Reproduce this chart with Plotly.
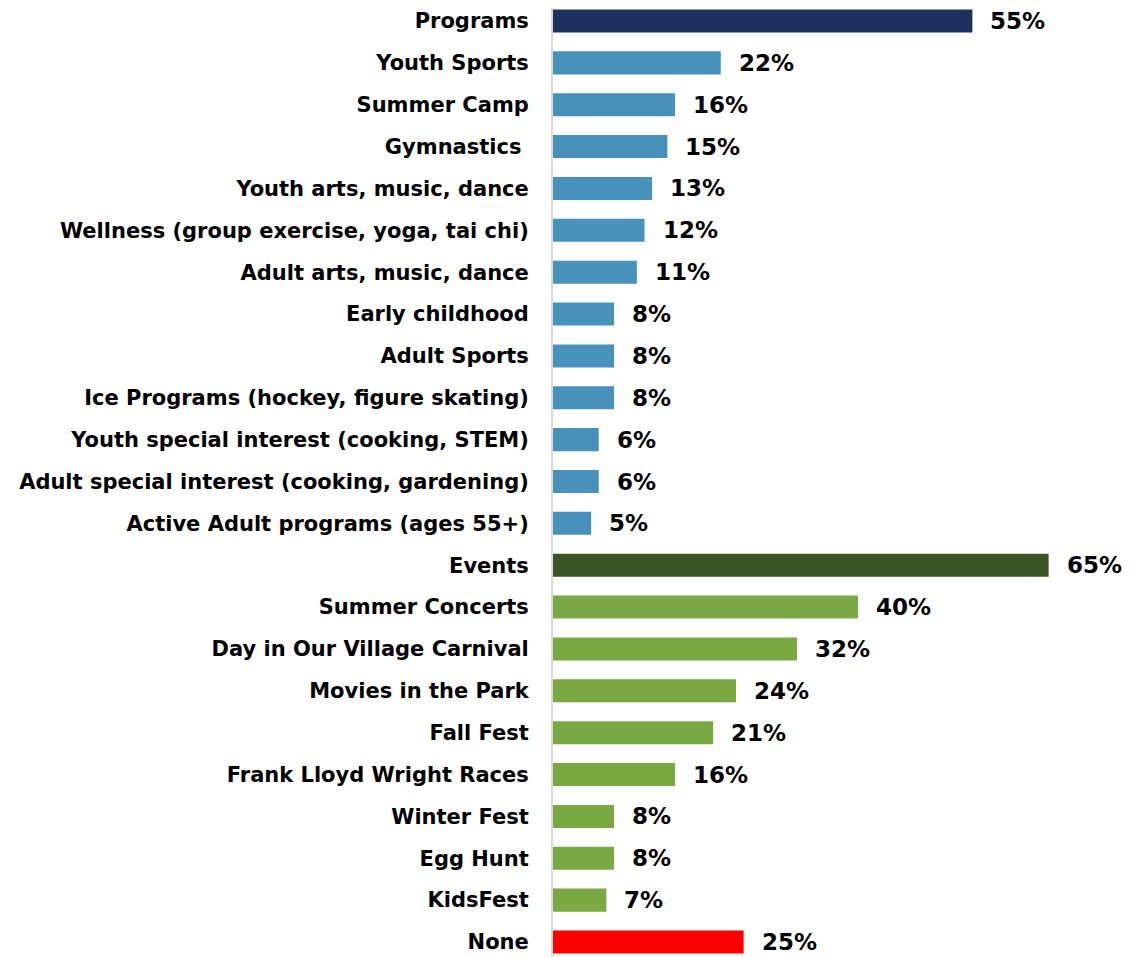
import plotly.graph_objects as go

categorias = [
    'Programs', 'Youth Sports', 'Summer Camp', 'Gymnastics ',
    'Youth arts, music, dance', 'Wellness (group exercise, yoga, tai chi)',
    'Adult arts, music, dance', 'Early childhood', 'Adult Sports',
    'Ice Programs (hockey, figure skating)', 'Youth special interest (cooking, STEM)',
    'Adult special interest (cooking, gardening)', 'Active Adult programs (ages 55+)',
    'Events', 'Summer Concerts', 'Day in Our Village Carnival', 'Movies in the Park',
    'Fall Fest', 'Frank Lloyd Wright Races', 'Winter Fest', 'Egg Hunt', 'KidsFest',
    'None'
]
valores = [55, 22, 16, 15, 13, 12, 11, 8, 8, 8, 6, 6, 5,
           65, 40, 32, 24, 21, 16, 8, 8, 7, 25]
grupos = ['prog_total'] + ['prog'] * 12 + ['evt_total'] + ['evt'] * 8 + ['none']

colores_grupo = {
    'prog_total': '#1C3160',
    'prog': '#4791BB',
    'evt_total': '#3B5424',
    'evt': '#7AA843',
    'none': '#FF0000',
}
colores = [colores_grupo[g] for g in grupos]

FUENTE = 'DejaVu Sans'

fig = go.Figure()

fig.add_trace(go.Bar(
    y=categorias,
    x=valores,
    orientation='h',
    marker=dict(color=colores, line=dict(width=0)),
    width=0.55,
    hoverinfo='skip',
))

# etiquetas de porcentaje
for cat, val in zip(categorias, valores):
    fig.add_annotation(
        x=val, y=cat, text=f'<b>{val}%</b>',
        showarrow=False, xanchor='left', xshift=16,
        font=dict(size=23, color='black', family=FUENTE),
    )

fig.update_layout(
    width=1138,
    height=957,
    paper_bgcolor='white',
    plot_bgcolor='white',
    showlegend=False,
    margin=dict(l=545, r=44, t=0, b=0),
    font=dict(family=FUENTE, size=21, color='black'),
    xaxis=dict(
        range=[0, 72],
        visible=False,
    ),
    yaxis=dict(
        range=[22.55, -0.311],
        showline=True,
        linecolor='#D9D9D9',
        linewidth=2,
        ticks='',
        ticklabelstandoff=18,
        tickfont=dict(size=21, family=FUENTE, weight='bold'),
        showgrid=False,
        zeroline=False,
    ),
)

fig.write_html('out.html')
